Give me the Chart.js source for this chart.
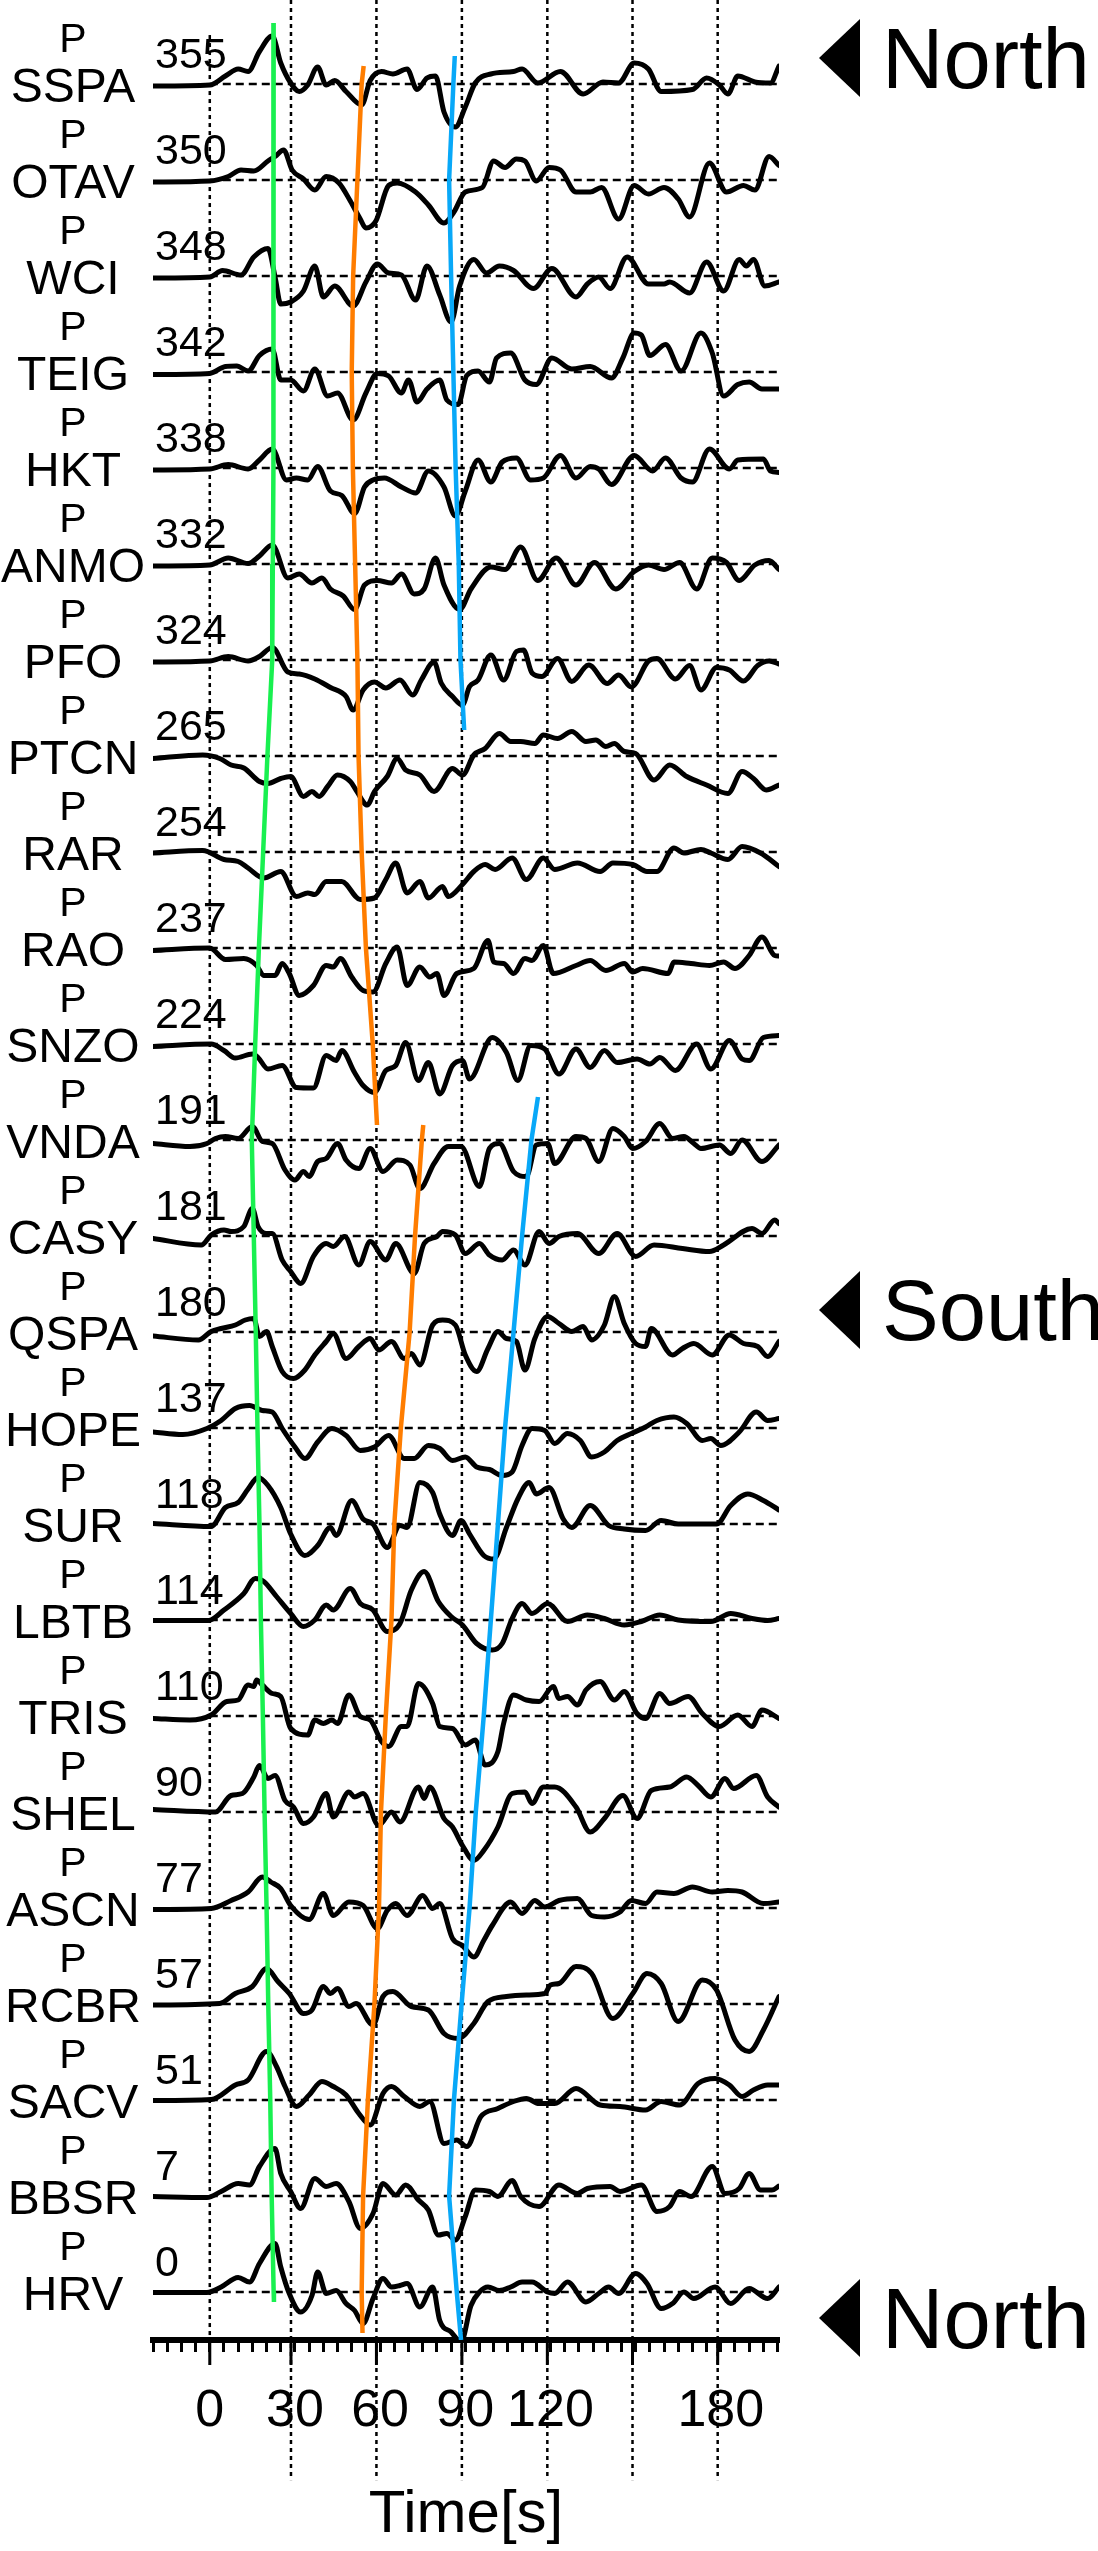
<!DOCTYPE html>
<html>
<head>
<meta charset="utf-8">
<script src="https://cdn.jsdelivr.net/npm/chart.js@4"></script>
<style>
  body { margin: 0; background: #fff; }
  canvas { display: block; }
</style>
</head>
<body>
<canvas id="c" width="1098" height="2551"></canvas>
<script>
// stations from top to bottom, with their distance labels
const stations = ['SSPA', 'OTAV', 'WCI', 'TEIG', 'HKT', 'ANMO', 'PFO', 'PTCN', 'RAR', 'RAO', 'SNZO', 'VNDA',
    'CASY', 'QSPA', 'HOPE', 'SUR', 'LBTB', 'TRIS', 'SHEL', 'ASCN', 'RCBR', 'SACV', 'BBSR', 'HRV'];
const distances = [355, 350, 348, 342, 338, 332, 324, 265, 254, 237, 224, 191, 181, 180, 137, 118, 114, 110, 90, 77, 57, 51, 7, 0];

// tick labels on the time axis and the dashed time grid
const tickLabels = [0, 30, 60, 90, 120, 180];
const gridTimes = [28.6, 58.7, 88.8, 118.9, 148.9, 178.9];

// waveforms: [time s, amplitude] (amplitude in the same units as the trace gap)
const SSPA = [[-20,-2],[0,-1],[5.5,8],[10,15],[13.5,12.5],[17.5,32.5],[22,48],[25,21],[28.5,1],[31.5,-7.5],[34.5,-1],[38,17],[41,-1],[44,3.5],[48,-7.5],[53.5,-21],[56.5,3.5],[60.5,12.5],[64.5,10],[69.5,15],[73,-5.5],[76.5,6],[79.5,8],[82.5,-28],[86.5,-43],[90,-23],[93.5,1],[99,10],[107,12.5],[110,15],[115.5,1],[123.5,12.5],[131.5,-10],[138.5,2],[144,1],[149.5,21],[154.5,15],[159,-7.5],[170,-5.5],[175,6],[179.5,-1],[182.5,-10],[186,8],[192,2],[197.5,1],[200.5,18]];
const OTAV = [[-20,-2],[0,-1],[6.5,3.5],[11,10],[15.5,9],[20.5,19],[23,23.5],[26,30],[29,10],[33,1],[37,-10],[41,3.5],[45.5,-3],[49.5,-21],[53,-39],[55,-48],[58.5,-41],[63,-5.5],[66,-3],[72.5,-12],[77,-25],[82.5,-43],[86,-32],[90,-12],[96,-7.5],[100,19],[104,12.5],[108,21],[111,19],[115,-1],[119.5,12.5],[123.5,10],[129,-12],[134,-12],[138,-7.5],[144,-39],[149.5,-5.5],[154.5,-14],[160,-7.5],[165,-19],[169,-37],[176,17],[182,-12],[188,-5.5],[192,-10],[197,23.5],[200.5,14.5]];
const WCI = [[-20,-2],[0,-1],[4.5,5.5],[11,1],[15.5,19],[20.5,27.5],[23,-1],[25,-28],[28.5,-26],[33,-15],[37,10],[40,-21],[44,-10],[50.5,-30],[55,-6],[59,12],[63,3],[67.5,1],[72.5,-24],[76.5,10],[81,-19],[85,-46],[88,-10],[93,16.5],[97.5,3],[102,10],[107,5.5],[114,-12.5],[120.5,7.5],[129,-21],[133,-8],[137,-1],[141,-12.5],[147,19],[154.5,-8],[160,-8],[162,-6],[169,-17],[175,14],[181,-15],[186.5,16.5],[189,10],[191.5,16.5],[195.5,-10],[200.5,-6]];
const TEIG = [[-20,-2.5],[0,-1.5],[5.5,5.5],[9.5,6],[13.5,1],[17.5,16.5],[22,23],[25,-8],[28.5,-8],[33,-19],[37,3],[41.5,-24],[45,-21],[50.5,-48],[55,-21],[59,-1.5],[63,-4],[67.5,-21],[70,-8],[73,-30],[76.5,-17],[81,-8],[83.5,-28],[87.5,-32.5],[90.5,-3.5],[94.5,1],[98.5,-10],[101,14],[106,19],[111,-8],[115,-12.5],[120.5,14],[127.5,3],[134,5.5],[141.5,-6],[145.5,14],[149.5,39],[152,37],[155,16.5],[160.5,27.5],[166,1],[173,39],[177,19],[181,-24],[186,-12.5],[190,-10],[194.5,-17],[200.5,-17]];
const HKT = [[-20,-2],[0,-1],[6.5,3.5],[13.5,-1],[17.5,8],[22,19],[27,-12],[30.5,-10],[34.5,-12],[38,1.5],[42.5,-23],[46.5,-27.5],[51,-45.5],[54.5,-19],[57.5,-12],[61.5,-10],[67.5,-19],[72.5,-25],[77,-3],[82.5,-19],[86.5,-48],[90,-23],[94.5,8],[99,-14],[103,6],[108,10],[113,-12],[117.5,-10],[123.5,12.5],[129,-10],[134,1.5],[137,-1],[141.5,-16.5],[149.5,12.5],[156,-3],[160.5,10],[166,-10],[170,-14],[176,19],[183,-1],[186,8],[195,9],[197.5,-3],[200.5,-4.5]];
const ANMO = [[-20,-2],[0,-1],[6.5,6],[13.5,0.5],[17.5,8],[22,19],[27.5,-14],[31.5,-10],[36,-19],[39.5,-14],[42.5,-25],[47,-32],[51,-45.5],[54.5,-21],[59,-16.5],[64,-19],[67.5,-10],[72,-30],[75.5,-25],[79.5,6],[82.5,-21],[88,-45.5],[92,-25],[99,-3],[104,-5.5],[109.5,17],[115.5,-16.5],[122,6],[129,-21],[135.5,1.5],[143,-25],[149.5,-7.5],[154.5,-1],[160,-5.5],[165.5,1.5],[171.5,-25],[177,6],[182,1.5],[186.5,-16.5],[192,-1],[197,3.5],[200.5,-5.5]];
const PFO = [[-20,-2],[0,-1],[6.5,3.5],[13.5,-1],[17.5,3.5],[22,12.5],[27.5,-12],[31.5,-14],[37,-19],[42.5,-27.5],[48,-36.5],[50.5,-50],[54,-30],[58,-22],[62,-28],[67,-20],[71.5,-35],[74.5,-20],[79,-2],[81.5,-23],[85.5,-36.5],[89,-45],[91.5,-26.5],[94.5,-20],[99,5],[103.5,-20],[108,8.5],[110.5,10],[113.5,-13],[117,-16.5],[122.5,1.5],[127.5,-21.5],[133.5,-5],[140,-23.5],[144,-15],[148.5,-27],[154.5,-1],[157.5,1.5],[164,-19],[169,-5.5],[173,-30],[178.5,-7.5],[183,-10],[188,-21],[193,-5.5],[197,-1],[200.5,-4]];
const PTCN = [[-20,-2.5],[-2.5,1],[3.5,-2.5],[7.5,-9],[12,-12],[17.5,-25.5],[20.5,-27.5],[25,-22.5],[28.5,-20.5],[33,-40.5],[36,-35.5],[38.5,-40.5],[41.5,-30.5],[45,-19],[49.5,-25.5],[51.5,-34],[55.5,-49],[58,-35.5],[62.5,-20.5],[66,-2.5],[69,-14],[74,-19],[79,-35.5],[85.5,-12.5],[89,-19],[93,1],[97,7.5],[102,22.5],[106,14.5],[109.5,14.5],[114.5,12.5],[117.5,21],[122.5,17.5],[127.5,24.5],[132.5,14.5],[136,16],[139.5,9.5],[142.5,12.5],[146,4.5],[150,2.5],[156.5,-24],[162,-9],[168,-20.5],[175,-29],[182.5,-37.5],[187.5,-15.5],[191.5,-22.5],[196,-34],[200.5,-29]];
const RAR = [[-20,-1],[-2.5,1.5],[5,-7.5],[10,-9.5],[13.5,-16],[19,-26],[25,-19.5],[30.5,-44.5],[34.5,-41],[37,-42.5],[41,-29.5],[46.5,-29.5],[53,-47.5],[58,-46],[62,-27.5],[65.5,-11],[69.5,-41],[74,-29.5],[77,-46],[82,-34.5],[84,-44.5],[89,-32.5],[93,-19.5],[97,-12.5],[100.5,-17.5],[106.5,-6],[111.5,-27.5],[117.5,-6],[121.5,-17.5],[129.5,-11],[137.5,-19.5],[142,-11],[149,-12.5],[154,-19.5],[157.5,-19.5],[163.5,4],[167,-1],[173,2.5],[176.5,-1],[182.5,-7.5],[187.5,5.5],[194,-1],[200.5,-14.5]];
const RAO = [[-20,-2.5],[0,0],[5.5,-11.5],[12,-10.5],[16.5,-17.5],[19,-27.5],[23,-27.5],[25.5,-15.5],[28,-25.5],[31.5,-47.5],[36.5,-37.5],[41,-17.5],[43.5,-19],[46,-10.5],[50,-29],[54,-42.5],[57.5,-44],[62,-15.5],[66,1],[69.5,-37.5],[74,-19],[77.5,-29],[80,-25.5],[82.5,-47.5],[87,-25.5],[93,-20.5],[98,7.5],[100,-14],[103.5,-15.5],[107,-25.5],[111,-10.5],[113.5,-12.5],[117.5,2.5],[121,-25.5],[129,-17.5],[134,-12.5],[139.5,-22.5],[146,-15.5],[149,-24],[152.5,-20.5],[161.5,-25.5],[163.5,-14],[169.5,-15.5],[176,-17.5],[181,-14],[185,-20.5],[190,-7.5],[194.5,11],[199,-7.5],[200.5,-8]];
const SNZO = [[-20,-2.5],[0.5,0],[5,-6.5],[9,-14],[15,-10],[17,-13.5],[20.5,-25],[25.5,-21.5],[30.5,-43.5],[36.5,-44],[41,-11.5],[44.5,-16.5],[46.5,-6.5],[51,-28.5],[54,-41.5],[58,-48.5],[62,-26.5],[65.5,-21.5],[69,1.5],[73.5,-36.5],[77,-18.5],[81,-50],[85.5,-21.5],[89,-16.5],[91.5,-35],[99.5,6.5],[104.5,-8.5],[108.5,-36.5],[113,-1.5],[118,-5],[123,-30],[129,-5],[134,-23.5],[139,-6.5],[143.5,-18.5],[150.5,-15],[155,-20],[158.5,-13.5],[164,-26.5],[171.5,0],[176.5,-25],[183,3.5],[187.5,-15],[190,-16.5],[195,6.5],[200.5,8.5]];
const VNDA = [[-20,-3.5],[-7,-6.5],[-1,-3.5],[2,1.5],[5.5,3.5],[10,1.5],[15,13.5],[18.5,-1.5],[22,-3.5],[26.5,-30],[30,-40],[33,-31.5],[35,-36.5],[38,-21.5],[41,-18.5],[45,-3.5],[48,-20],[52.5,-28.5],[56.5,-8.5],[61,-31.5],[66,-20],[70.5,-25],[74,-48.5],[79,-23.5],[84,-6.5],[88.5,-6.5],[95,-46.5],[98.5,-8.5],[102,-3.5],[107,-31.5],[111.5,-36.5],[115,-5],[119,-3.5],[121.5,-23.5],[129,3.5],[132.5,1.5],[137,-21.5],[142,11.5],[146,3.5],[149,-8.5],[153.5,-1.5],[158.5,16.5],[163,1.5],[167,3.5],[170.5,-3.5],[173,-8.5],[179.5,-5],[183.5,-13.5],[187.5,0],[194.5,-21.5],[200.5,-5]];
const CASY = [[-20,-2.5],[-3,-9],[0.5,1],[5,6],[7.5,4.5],[12,9.5],[15,27.5],[17,9.5],[20,2.5],[22,2.5],[25.5,-24],[28.5,-35.5],[32,-47.5],[36.5,-20.5],[41,-7.5],[43.5,-10.5],[47.5,-0.5],[52.5,-29],[56.5,-5.5],[62,-24],[65.5,-7.5],[72,-37.5],[75.5,-7.5],[80,-0.5],[82,4.5],[86.5,1],[90,-17.5],[95,-7.5],[98.5,-19],[103,-24],[107,-14],[111,-29],[116,4.5],[119.5,-7.5],[123,-0.5],[129.5,2.5],[137,-17.5],[143.5,2.5],[150,-20.5],[156.5,-9],[166.5,-12.5],[176,-15.5],[181,-9],[191,7.5],[194.5,2.5],[199,16],[200.5,12.5]];
const QSPA = [[-20,-4],[-4,-8],[0.5,0.5],[4,3.5],[9,7],[12.5,12],[15.5,13.5],[17.5,-4.5],[20,0.5],[22,-14.5],[25.5,-39.5],[29.5,-46.5],[33.5,-38],[37,-23],[41,-9.5],[43.5,-1.5],[48,-26.5],[52.5,-14.5],[56.5,-6.5],[59.5,-18],[64,-9.5],[68.5,-26.5],[71,-21.5],[74,-33],[78.5,7],[82,12],[86.5,7],[90,-23],[94,-39.5],[98,-16.5],[101.5,0.5],[104.5,-6.5],[108,-9.5],[111,-38],[114.5,-6.5],[119,15.5],[123,8.5],[127.5,0.5],[131.5,5.5],[134.5,-8],[139,7],[142.5,35.5],[146,8.5],[150,-11.5],[153.5,-14.5],[155.5,3.5],[163,-23],[166.5,-16.5],[170.5,-11.5],[177,-23],[183,-3],[188,-11.5],[193,-14.5],[196.5,-24.5],[200.5,-9.5]];
const HOPE = [[-20,-4],[-9.5,-6.5],[-1,-0.5],[4,7.5],[9,19.5],[14,22.5],[18.5,17.5],[22,16],[25.5,-0.5],[30,-19],[33.5,-30.5],[38,-14],[43,-0.5],[48,-7.5],[53,-22.5],[58,-19],[63,-7.5],[68.5,-30.5],[72,-30.5],[77,-17.5],[81,-20.5],[85.5,-32.5],[90,-29],[94,-39],[98.5,-41.5],[103,-47.5],[106.5,-44],[110,-17.5],[113.5,-0.5],[118,-2.5],[121.5,-15.5],[126,-5.5],[130.5,-12.5],[134.5,-29],[139,-24],[143.5,-12.5],[148.5,-5.5],[153.5,1],[157.5,7.5],[163.5,11],[168,4.5],[173.5,-12.5],[176.5,-10.5],[180,-17.5],[186.5,-4],[192.5,16],[196.5,7.5],[200.5,9.5]];
const SUR = [[-20,0.5],[0.5,-2.5],[5.5,16.5],[10,21.5],[13.5,35],[17,46.5],[20.5,38.5],[25,16.5],[28.5,-10],[33.5,-31.5],[38,-21.5],[42.5,-3.5],[44.5,-11.5],[50,23.5],[54,5],[57.5,0],[62.5,-23.5],[67,-1.5],[69.5,-3.5],[74,41.5],[78.5,31.5],[81,10],[85.5,-11.5],[88.5,3.5],[91.5,-10],[96.5,-31.5],[100,-35],[104.5,-3.5],[108.5,25],[112.5,41.5],[115,30],[119.5,36.5],[124.5,5],[127.5,-3.5],[134,18.5],[140.5,-1.5],[146,-5],[153.5,-6.5],[159,3.5],[165,0],[178.5,0],[183.5,18.5],[189.5,30],[195,23.5],[200.5,14]];
const LBTB = [[-20,-0.5],[-0.5,-0.5],[5,10],[12,26.5],[16,41.5],[19,38.5],[23.5,23.5],[28.5,6.5],[33,-6.5],[37,0],[41,15],[43.5,10],[49.5,31.5],[53,16.5],[57.5,10],[62.5,-11.5],[67,-3.5],[71,30],[75.5,48.5],[80.5,18.5],[85,3.5],[89,-5],[94,-23.5],[99.5,-30],[103,-23.5],[106.5,1.5],[110,16.5],[113.5,6.5],[119,16.5],[126,-1.5],[133,5],[139,1.5],[146,-5],[152,-1.5],[158.5,5],[165,0],[176.5,-1.5],[183.5,6.5],[191,1.5],[196.5,-0.5],[200.5,1.5]];
const TRIS = [[-20,-2.5],[-7,-4],[0.5,1],[6,14.5],[10,16],[13.5,31],[15.5,29.5],[16.5,36],[18.5,31],[22,22.5],[25,19.5],[28.5,-12.5],[34.5,-19],[37,-4],[40,-7.5],[43,-4],[45,-7.5],[49,21],[53,-0.5],[56.5,-4],[60.5,-25.5],[63,-30.5],[67.5,-10.5],[69.5,-10.5],[73.5,32.5],[78.5,12.5],[81,-10.5],[85.5,-12.5],[90,-29],[93.5,-24],[97,-49],[101.5,-35.5],[103.5,-7.5],[107,21],[111.5,16],[116,14.5],[121,29.5],[123,17.5],[126,19.5],[129.5,11],[132.5,26],[137.5,34.5],[142.5,16],[146,24.5],[150.5,2.5],[153.5,-2.5],[158.5,22.5],[162,12.5],[168.5,19.5],[173.5,2.5],[179.5,-10.5],[186,1],[191,-10.5],[194.5,6],[200.5,-2.5]];
const SHEL = [[-20,2.5],[2,0],[7.5,16.5],[11.5,18.5],[15.5,35],[17.5,46.5],[20.5,33.5],[23,36.5],[26.5,11.5],[29.5,5],[33,-11.5],[36.5,-5],[41,18.5],[43.5,-5],[49,20],[51,15],[54,18.5],[59.5,-13.5],[64,0],[67,-10],[73.5,25],[75.5,13.5],[77.5,25],[82.5,-6.5],[85.5,-15],[89,-33.5],[93,-48.5],[96.5,-38.5],[101.5,-15],[106.5,18.5],[111,20],[113.5,8.5],[117.5,25],[121.5,25],[129,5],[134,-20],[139,-6.5],[145.5,16.5],[150.5,-6.5],[155.5,21.5],[162,25],[168,35],[172,26.5],[176.5,15],[181.5,33.5],[184.5,23.5],[192.5,36.5],[196.5,15],[200.5,5]];
const ASCN = [[-20,-1.5],[0.5,-0.5],[7.5,7.5],[13.5,16],[18.5,31],[21.5,26],[25,19.5],[28.5,2.5],[35,-11.5],[40,14.5],[43.5,-7.5],[49,6],[54,2.5],[59,-20.5],[62.5,-2.5],[65.5,4.5],[69.5,-7.5],[75,12.5],[78.5,-0.5],[81,4.5],[85.5,-30.5],[89,-37.5],[93,-49],[96.5,-32.5],[99.5,-17.5],[106,6],[110,-5.5],[114.5,7.5],[118,1],[123,7.5],[129.5,9.5],[134.5,-7.5],[139,-9],[144.5,-4],[148.5,7.5],[153.5,4.5],[157.5,16],[163.5,14.5],[170,21],[177,16],[182.5,17.5],[187.5,16],[195,4.5],[200.5,6]];
const RCBR = [[-20,-1],[3.5,0.5],[9,10.5],[15,17.5],[20,35.5],[24,22.5],[28,10.5],[33,-9.5],[36,-6],[40,17.5],[42.5,10.5],[45,15.5],[49,-2.5],[51.5,0.5],[57.5,-21],[61,7.5],[64.5,12.5],[71,-2.5],[77,-6],[82.5,-29.5],[87.5,-34.5],[93,-19.5],[98,2.5],[104.5,7.5],[111.5,9],[118,10.5],[120,19],[123,20.5],[129,37.5],[134.5,30.5],[142,-14.5],[149,10.5],[154,30.5],[159,20.5],[165,-17.5],[173.5,24],[178.5,14],[185,-36],[190,-47.5],[195,-26],[200.5,7.5]];
const SACV = [[-20,-0.5],[0.5,0.5],[9,15],[13.5,20],[20,48.5],[23.5,33.5],[26.5,13.5],[30.5,-6.5],[35,5],[39.5,18.5],[43.5,13.5],[48,5],[52.5,-13.5],[56.5,-25],[61,6.5],[64,13.5],[68.5,3.5],[74,-6.5],[77.5,-1.5],[82.5,-43.5],[87,-40],[90.5,-46.5],[95.5,-16.5],[101.5,-8.5],[107,-1.5],[111.5,1.5],[116,-3.5],[121.5,-3.5],[129,11.5],[137.5,-5],[144.5,-6.5],[153.5,-10],[159,-1.5],[165.5,-5],[172,16.5],[178,21.5],[183,15],[187.5,3.5],[191.5,10],[196.5,15],[200.5,15]];
const BBSR = [[-20,-0.5],[-1,-1.5],[4,4.5],[10,12.5],[14,11],[17.5,29.5],[23,47.5],[25,22.5],[28.5,4.5],[32,-12.5],[37,17.5],[41,9.5],[44.5,12.5],[49,-5.5],[53,-32.5],[57.5,-17.5],[61,12.5],[65.5,1],[69,11],[73.5,-4],[77,-14],[80.5,-39],[83.5,-37.5],[86.5,-44],[90,-20.5],[93.5,6],[98.5,4.5],[101.5,-0.5],[106.5,15.5],[109.5,-0.5],[116,-10.5],[123,11],[129.5,2.5],[133,7.5],[141,9.5],[144.5,4.5],[152,11],[157.5,-15.5],[162,-10.5],[165.5,4.5],[169.5,-0.5],[177,29.5],[181.5,2.5],[186.5,7.5],[190,22.5],[194,6],[198,6],[200.5,10]];
const HRV = [[-20,-0.5],[-1,-0.5],[4,5],[10,14.5],[14,10],[17.5,28.5],[23,48.5],[25,25],[28,-1.5],[32,-20],[36,-3.5],[38,20],[41,-1.5],[44.5,1.5],[48,-11.5],[51,-18.5],[54,-31.5],[57.5,-6.5],[61,13.5],[64,5],[67,6.5],[69.5,8.5],[74,-15],[78.5,5],[81,-28.5],[85,-40],[88.5,-50],[92,-13.5],[95,0],[98,5],[102,1.5],[106,5],[110,10],[113.5,10],[119,0],[121.5,-1.5],[126,10],[132.5,-10],[137,-1.5],[140.5,5],[144,-1.5],[150,18.5],[154,8.5],[159,-16.5],[163,-11.5],[167,0],[170.5,-6.5],[178,5],[183.5,-11.5],[190,3.5],[196.5,-6.5],[200.5,5]];

const traces = [SSPA, OTAV, WCI, TEIG, HKT, ANMO, PFO, PTCN, RAR, RAO, SNZO, VNDA,
    CASY, QSPA, HOPE, SUR, LBTB, TRIS, SHEL, ASCN, RCBR, SACV, BBSR, HRV];

// phase picks (time per station) + the line ends [time, offset from the end station]
const greenPick = [22.5, 22.5, 22.4, 22.4, 22.3, 22.2, 22, 20.3, 18.8, 17.3, 16, 14.8, 15.5, 16.2, 16.8, 17.5, 18, 18.7, 19.3, 20, 20.6, 21.3, 21.8, 22.5];
const greenEnds = [[22.5, -61], [22.6, 10]];
const orangeNorth = [53.5, 52, 50.5, 50, 50.4, 51.2, 52, 52.4, 53.5, 55, 57.4];
const orangeNorthEnds = [[54.2, -18], [58.9, 81]];
const orangeSouth = [74.7, 72.3, 70.4, 67.3, 65, 64, 62, 60.3, 59.6, 58, 55.7, 54, 53.5];
const orangeSouthEnds = [[75.2, -15], [53.8, 41]];
const blueNorth = [85.8, 84.3, 85, 85.8, 86.6, 87.7, 88.3];
const blueNorthEnds = [[86.3, -28], [89.6, 70]];
const blueSouth = [113.3, 110, 107, 104, 101.5, 99, 96.5, 93.7, 91.5, 88.7, 86, 84.3, 87];
const blueSouthEnds = [[115.6, -43], [88.5, 48]];

const GAP = 96; // trace spacing, amplitudes are read in the same units
const FONT = '"Liberation Sans", Arial, sans-serif';

// builds one pick line going through the stations starting at index "first"
function pickLine(times, first, ends, color) {
    const pts = [{ x: ends[0][0], y: first + ends[0][1] / GAP }];
    times.forEach((t, k) => pts.push({ x: t, y: first + k }));
    pts.push({ x: ends[1][0], y: first + times.length - 1 + ends[1][1] / GAP });
    return { data: pts, borderColor: color, borderWidth: 4.5, order: 0 };
}

const datasets = [];

datasets.push(pickLine(greenPick, 0, greenEnds, '#19f050'));
datasets.push(pickLine(orangeNorth, 0, orangeNorthEnds, '#ff7d00'));
datasets.push(pickLine(orangeSouth, 11, orangeSouthEnds, '#ff7d00'));
datasets.push(pickLine(blueNorth, 0, blueNorthEnds, '#08a8f8'));
datasets.push(pickLine(blueSouth, 11, blueSouthEnds, '#08a8f8'));

traces.forEach((tr, i) => {
    datasets.push({
        data: tr.map(p => ({ x: p[0], y: i - p[1] / GAP })),
        borderColor: '#000',
        borderWidth: 5,
        borderJoinStyle: 'round',
        borderCapStyle: 'round',
        cubicInterpolationMode: 'monotone',
        order: 1
    });
    // dashed zero line of the trace
    datasets.push({
        data: [{ x: 0, y: i }, { x: 200.5, y: i }],
        borderColor: '#000',
        borderWidth: 2.3,
        borderDash: [8, 5],
        order: 2
    });
});

// dashed time grid (runs below the axis, so no clipping)
gridTimes.forEach(t => {
    datasets.push({
        data: [{ x: t, y: -0.875 }, { x: t, y: 24.96 }],
        borderColor: '#000', borderWidth: 2.5, borderDash: [4, 4], clip: false, order: 2
    });
});
datasets.push({
    data: [{ x: 0, y: -0.51 }, { x: 0, y: 23.5 }],
    borderColor: '#000', borderWidth: 2.5, borderDash: [4, 4], clip: false, order: 2
});

// station names, distances, long ticks and the North/South markers
const labelsPlugin = {
    id: 'labels',
    afterDraw(chart) {
        const ctx = chart.ctx;
        const xs = chart.scales.x;
        const ys = chart.scales.y;
        ctx.save();
        ctx.fillStyle = '#000';
        ctx.textBaseline = 'alphabetic';

        stations.forEach((name, i) => {
            const b = ys.getPixelForValue(i);
            ctx.textAlign = 'center';
            ctx.font = '41px ' + FONT;
            ctx.fillText('P', 73, b - 32);
            ctx.font = '48px ' + FONT;
            ctx.fillText(name, 73, b + 18);
            ctx.textAlign = 'left';
            ctx.font = '43px ' + FONT;
            ctx.fillText(String(distances[i]), 155, b - 16);
        });

        // longer ticks under the axis
        ctx.strokeStyle = '#000';
        ctx.lineWidth = 3;
        [0].concat(gridTimes).forEach(t => {
            const x = xs.getPixelForValue(t);
            ctx.beginPath();
            ctx.moveTo(x, chart.chartArea.bottom);
            ctx.lineTo(x, chart.chartArea.bottom + 25);
            ctx.stroke();
        });

        const markers = [['North', ys.getPixelForValue(0) - 26], ['South', ys.getPixelForValue(13) - 22], ['North', ys.getPixelForValue(23) + 26]];
        ctx.font = '85px ' + FONT;
        ctx.textAlign = 'left';
        markers.forEach(m => {
            const cy = m[1];
            ctx.beginPath();
            ctx.moveTo(819, cy);
            ctx.lineTo(860, cy - 39);
            ctx.lineTo(860, cy + 39);
            ctx.closePath();
            ctx.fill();
            ctx.fillText(m[0], 882, cy + 30);
        });
        ctx.restore();
    }
};

new Chart(document.getElementById('c').getContext('2d'), {
    type: 'line',
    data: { datasets: datasets },
    options: {
        responsive: false,
        animation: false,
        devicePixelRatio: 1,
        layout: { padding: { left: 153, right: 319, top: 0, bottom: 0 } },
        elements: { point: { radius: 0 }, line: { tension: 0, fill: false } },
        plugins: { legend: { display: false }, tooltip: { enabled: false } },
        scales: {
            x: {
                type: 'linear',
                min: -20,
                max: 200.5,
                position: 'bottom',
                afterFit: function (scale) { scale.height = 211; },
                border: { display: true, color: '#000', width: 6 },
                grid: { drawOnChartArea: false, drawTicks: true, tickLength: 12, tickWidth: 3, tickColor: '#000' },
                ticks: {
                    stepSize: 5,
                    autoSkip: false,
                    includeBounds: false,
                    maxRotation: 0,
                    padding: 28,
                    color: '#000',
                    font: { family: FONT, size: 52 },
                    callback: v => tickLabels.includes(v) ? String(v) : ''
                },
                title: {
                    display: true,
                    text: 'Time[s]',
                    color: '#000',
                    font: { family: FONT, size: 60 },
                    padding: { top: 0, bottom: 0 }
                }
            },
            y: { type: 'linear', reverse: true, min: -0.875, max: 23.5, display: false }
        }
    },
    plugins: [labelsPlugin]
});
</script>
</body>
</html>
